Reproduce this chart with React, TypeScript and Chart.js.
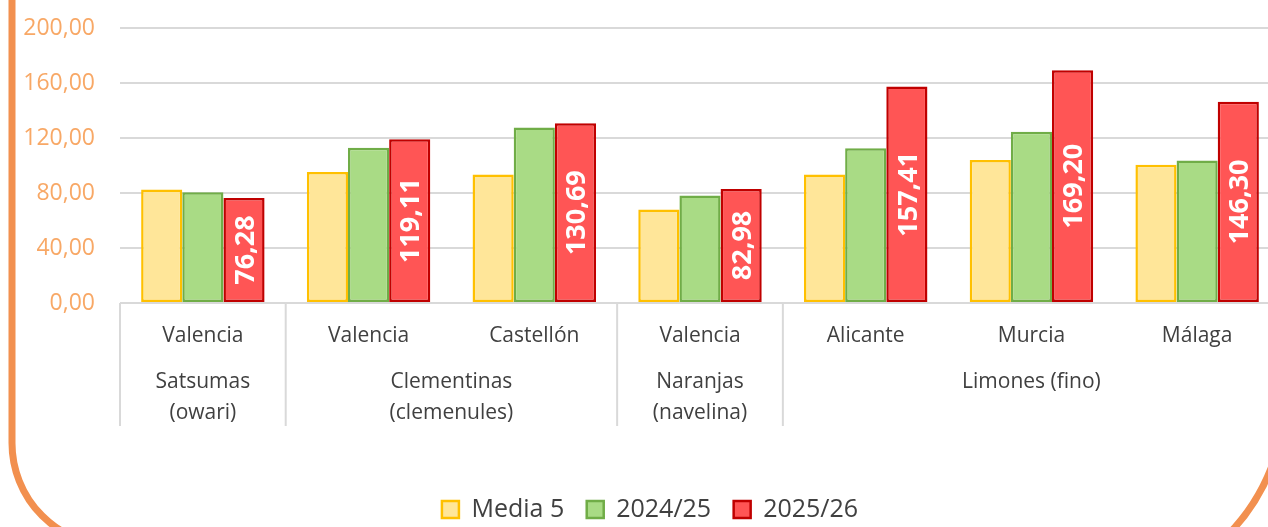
import React, { useEffect, useRef } from 'react';
import { Chart, registerables } from 'chart.js';

Chart.register(...registerables);

// ---- data ----
const cities = ['Valencia', 'Valencia', 'Castellón', 'Valencia', 'Alicante', 'Murcia', 'Málaga'];
const groupLabels = [['Satsumas', '(owari)'], ['Clementinas', '(clemenules)'], ['Naranjas', '(navelina)'], ['Limones (fino)']];
const groupSpans = [1, 2, 1, 3];
const seriesNames = ['Media 5', '2024/25', '2025/26'];
const media5 = [82.5, 95.3, 93.5, 68.0, 93.5, 104.0, 100.5];
const s2425 = [80.5, 113.0, 127.6, 78.2, 112.6, 124.6, 103.6];
const s2526 = [76.28, 119.11, 130.69, 82.98, 157.41, 169.2, 146.3];
const yTicks = [0, 40, 80, 120, 160, 200];

const FONT = '"Open Sans", "Noto Sans", sans-serif';
const fmt = (v: number) => v.toFixed(2).replace('.', ',');

const multiLevelAxis = {
  id: 'multiLevelAxis',
  afterDraw(chart: any) {
    const ctx = chart.ctx;
    const x = chart.scales.x;
    const area = chart.chartArea;
    const n = cities.length;
    const cw = (x.right - x.left) / n;
    const b = area.bottom;
    ctx.save();
    ctx.strokeStyle = '#d9d9d9';
    ctx.lineWidth = 2;
    let idx = 0;
    const bounds = [0];
    groupSpans.forEach((s) => { idx += s; bounds.push(idx); });
    bounds.forEach((i) => {
      const px = x.getPixelForValue(Math.min(i, n - 1)) + (i >= n ? cw / 2 : -cw / 2);
      ctx.beginPath();
      ctx.moveTo(px, b);
      ctx.lineTo(px, b + 123);
      ctx.stroke();
    });
    ctx.fillStyle = '#404040';
    ctx.font = `21px ${FONT}`;
    ctx.textAlign = 'center';
    ctx.textBaseline = 'alphabetic';
    cities.forEach((c, i) => {
      ctx.fillText(c, x.getPixelForValue(i), b + 39);
    });
    let start = 0;
    groupLabels.forEach((lines, g) => {
      const end = start + groupSpans[g];
      const px = (x.getPixelForValue(start) - cw / 2 + x.getPixelForValue(end - 1) + cw / 2) / 2;
      lines.forEach((t, li) => {
        ctx.fillText(t, px, b + 85 + li * 31);
      });
      start = end;
    });
    ctx.restore();
  },
};

const valueLabels = {
  id: 'valueLabels',
  afterDatasetsDraw(chart: any) {
    const ctx = chart.ctx;
    const meta = chart.getDatasetMeta(2);
    ctx.save();
    ctx.fillStyle = '#ffffff';
    ctx.font = `bold 27px ${FONT}`;
    ctx.textAlign = 'center';
    ctx.textBaseline = 'middle';
    meta.data.forEach((bar: any, i: number) => {
      const cx = bar.x + 2;
      const cy = (bar.y + bar.base) / 2;
      ctx.save();
      ctx.translate(cx, cy);
      ctx.rotate(-Math.PI / 2);
      ctx.fillText(fmt(s2526[i]), 0, 0);
      ctx.restore();
    });
    ctx.restore();
  },
};

const frame = {
  id: 'frame',
  afterDraw(chart: any) {
    const ctx = chart.ctx;
    ctx.save();
    ctx.strokeStyle = '#F2904F';
    ctx.lineWidth = 7;
    ctx.beginPath();
    ctx.moveTo(12, -20);
    ctx.lineTo(12, 443);
    ctx.arc(115, 443, 103, Math.PI, Math.PI / 2, true);
    ctx.stroke();
    ctx.beginPath();
    ctx.arc(1085, 395, 200, Math.PI / 2, 0, true);
    ctx.lineTo(1285, -20);
    ctx.stroke();
    ctx.restore();
  },
};

export default function App() {
  const ref = useRef<HTMLCanvasElement>(null);
  useEffect(() => {
    const chart = new Chart(ref.current as HTMLCanvasElement, {
      type: 'bar',
      data: {
        labels: cities,
        datasets: [
          { label: seriesNames[0], data: media5, backgroundColor: '#FFE699', borderColor: '#FFC000', borderWidth: 2.5, borderSkipped: false },
          { label: seriesNames[1], data: s2425, backgroundColor: '#A9DB85', borderColor: '#70AD47', borderWidth: 2.5, borderSkipped: false },
          { label: seriesNames[2], data: s2526, backgroundColor: '#FF5555', borderColor: '#C00000', borderWidth: 2.5, borderSkipped: false },
        ],
      },
      options: {
        responsive: false,
        devicePixelRatio: 1,
        animation: false,
        layout: { padding: { top: 28, left: 20, right: 20, bottom: 0 } },
        datasets: { bar: { categoryPercentage: 0.745, barPercentage: 1 } },
        plugins: {
          tooltip: { enabled: false },
          legend: {
            position: 'bottom',
            labels: {
              color: '#404040',
              font: { family: FONT, size: 25 },
              boxWidth: 17,
              boxHeight: 17,
              padding: 22.5,
            },
          },
        },
        scales: {
          x: {
            type: 'category',
            ticks: { display: false },
            grid: { display: false },
            border: { display: false },
            afterFit: (s: any) => { s.height = 171.5; },
          },
          y: {
            min: 0,
            max: 200,
            afterBuildTicks: (s: any) => { s.ticks = yTicks.map((v) => ({ value: v })); },
            ticks: {
              color: '#F8A866',
              font: { family: FONT, size: 23 },
              padding: 25,
              callback: (v: any) => fmt(Number(v)),
            },
            grid: { color: '#d9d9d9', lineWidth: 2, drawTicks: false },
            border: { display: false },
            afterFit: (s: any) => { s.width = 100; s.paddingTop = 0; s.paddingBottom = 0; },
          },
        },
      },
      plugins: [multiLevelAxis, valueLabels, frame],
    } as any);
    return () => chart.destroy();
  }, []);
  return (
    <div style={{ position: 'fixed', left: 0, top: 0, width: 1268, height: 527, overflow: 'hidden', background: '#fff' }}>
      <canvas ref={ref} width={1300} height={532} style={{ display: 'block', width: 1300, height: 532 }} />
    </div>
  );
}
